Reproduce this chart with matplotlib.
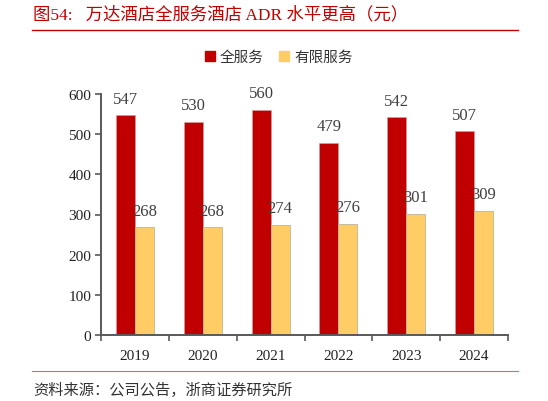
import numpy as np
import matplotlib.pyplot as plt
from matplotlib.lines import Line2D

plt.rcParams['font.family'] = ['Liberation Serif', 'Noto Sans CJK SC', 'DejaVu Sans']

# dados do gráfico
anos = ['2019', '2020', '2021', '2022', '2023', '2024']
full_service = [547, 530, 560, 479, 542, 507]
limited_service = [268, 268, 274, 276, 301, 309]
series_names = ['全服务', '有限服务']
y_ticks = [0, 100, 200, 300, 400, 500, 600]

red = '#C00000'
yellow = '#FFCC66'
gray = '#404040'
cjk = ['Noto Sans CJK SC', 'DejaVu Sans']

fig = plt.figure(figsize=(5.48, 4.02), dpi=100)
W, H = 548, 402
ax = fig.add_axes([101 / W, 1 - 336 / H, (508 - 101) / W, (336 - 95) / H])

x = np.arange(len(anos))
bw = 0.28
b1 = ax.bar(x - bw / 2, full_service, bw, color=red, edgecolor='#D0A0A0', linewidth=0.4)
b2 = ax.bar(x + bw / 2, limited_service, bw, color=yellow, edgecolor='#BFB39A', linewidth=0.6)

for bars, vals in ((b1, full_service), (b2, limited_service)):
    for b, v in zip(bars, vals):
        ax.annotate(str(v), (b.get_x() + b.get_width() / 2, v), xytext=(0, 12),
                    textcoords='offset points', ha='center', va='center',
                    fontsize=12, color=gray)

ax.set_xlim(-0.5, len(anos) - 0.5)
ax.set_ylim(0, 600)
ax.set_yticks(y_ticks)
ax.tick_params(axis='y', labelsize=11, colors='#222222', length=4, width=1.2, direction='out', pad=3)
ax.tick_params(axis='y', color='#595959')
ax.set_xticks(np.arange(len(anos) + 1) - 0.5, minor=False)
ax.set_xticklabels([])
ax.set_xticks(x, minor=True)
ax.set_xticklabels(anos, minor=True)
ax.tick_params(axis='x', which='major', length=4, width=1.2, color='#595959', direction='out')
ax.tick_params(axis='x', which='minor', length=0, labelsize=11, labelcolor='#222222', pad=10)

for s in ['top', 'right']:
    ax.spines[s].set_visible(False)
for s in ['left', 'bottom']:
    ax.spines[s].set_color('#595959')
    ax.spines[s].set_linewidth(1.4)

# legenda
handles = [Line2D([], [], marker='s', linestyle='', markersize=7, color=red),
           Line2D([], [], marker='s', linestyle='', markersize=7, color=yellow)]
fig.legend(handles, series_names, loc='center', bbox_to_anchor=(277 / W, 1 - 58 / H),
           ncol=2, frameon=False, prop={'family': cjk, 'size': 10.5},
           handletextpad=0.1, columnspacing=0.8, handlelength=1.2, labelcolor='#333333')

# título e fonte
fig.text(33 / W, 1 - 15 / H, '图54:   万达酒店全服务酒店 ADR 水平更高（元）', color=red,
         fontsize=12.5, family=['Liberation Serif', 'Noto Sans CJK SC'], va='center', ha='left')
fig.add_artist(Line2D([32 / W, 518 / W], [1 - 31 / H, 1 - 31 / H], color=red, linewidth=1.0))
fig.add_artist(Line2D([32 / W, 518 / W], [1 - 372 / H, 1 - 372 / H], color='#E06666', linewidth=0.8))
fig.text(33 / W, 1 - 390 / H, '资料来源：公司公告，浙商证券研究所', color='#333333',
         fontsize=11, family=cjk, va='center', ha='left')

fig.savefig('out.png', dpi=100)
